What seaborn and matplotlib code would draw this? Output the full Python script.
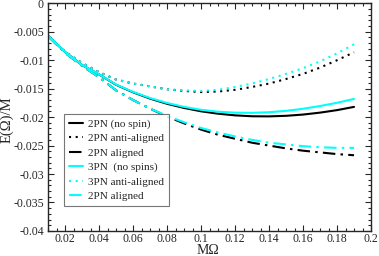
import matplotlib
matplotlib.use("Agg")
import matplotlib.pyplot as plt
import seaborn as sns
import numpy as np
import pandas as pd
from matplotlib.ticker import MultipleLocator, FuncFormatter

m_omega = [0.01, 0.02, 0.03, 0.04, 0.05, 0.06, 0.07, 0.08, 0.09, 0.10,
           0.11, 0.12, 0.13, 0.14, 0.15, 0.16, 0.17, 0.18, 0.19]

pn2_nospin = [-0.0057, -0.00855, -0.01086, -0.0125, -0.01432, -0.01564, -0.01675, -0.01766,
              -0.01839, -0.01898, -0.0194, -0.01969, -0.01985, -0.01987, -0.01977, -0.01955,
              -0.01921, -0.01877, -0.0182]
pn2_anti = [-0.0057, -0.0085, -0.0105, -0.0121, -0.0134, -0.0141, -0.0146, -0.0151, -0.0154,
            -0.0156, -0.0155, -0.0152, -0.0147, -0.0141, -0.0133, -0.0124, -0.0113, -0.0100,
            -0.0086]
pn2_aligned = [-0.0058, -0.0087, -0.0110, -0.0130, -0.0153, -0.0170, -0.0185, -0.0199, -0.0211,
               -0.0222, -0.0231, -0.0238, -0.0245, -0.0250, -0.0255, -0.0259, -0.0262, -0.0265,
               -0.0267]
pn3_nospin = [-0.0057, -0.00855, -0.01085, -0.01248, -0.01428, -0.01558, -0.01665, -0.01752,
              -0.0182, -0.01872, -0.01905, -0.01922, -0.01925, -0.01914, -0.0189, -0.01853,
              -0.01805, -0.01748, -0.0168]
pn3_anti = [-0.0057, -0.0085, -0.0105, -0.0121, -0.0134, -0.0141, -0.0146, -0.0151, -0.0153,
            -0.0154, -0.0152, -0.0147, -0.0141, -0.0133, -0.0124, -0.0114, -0.0102, -0.0088,
            -0.0072]
pn3_aligned = [-0.0058, -0.0087, -0.0110, -0.0130, -0.0153, -0.0170, -0.0185, -0.0198, -0.0209,
               -0.0219, -0.0227, -0.0234, -0.0240, -0.0245, -0.0248, -0.0251, -0.0253, -0.0254,
               -0.0254]

labels = ["2PN (no spin)", "2PN anti-aligned", "2PN aligned",
          "3PN  (no spins)", "3PN anti-aligned", "2PN aligned"]
series = [pn2_nospin, pn2_anti, pn2_aligned, pn3_nospin, pn3_anti, pn3_aligned]
colors = ["black", "black", "black", "#00FFFF", "#00FFFF", "#00FFFF"]
styles = ["-", (0, (1, 2.2)), (0, (6, 2.5, 1.2, 2.5)),
          "-", (0, (1, 2.2)), (0, (6, 2.5, 1.2, 2.5))]

sns.set_style("ticks")
plt.rcParams['font.family'] = ['Liberation Serif', 'DejaVu Serif']

fig = plt.figure(figsize=(3.79, 2.56), dpi=100)
ax = fig.add_axes([0.127, 0.098, 0.852, 0.889])

for lab, vals, c, ls in zip(labels, series, colors, styles):
    df = pd.DataFrame({"x": m_omega, "y": vals})
    sns.lineplot(data=df, x="x", y="y", ax=ax, color=c, linestyle=ls,
                 linewidth=1.5, label=lab)

ax.set_xlim(0.01, 0.2)
ax.set_ylim(-0.04, 0)
ax.xaxis.set_major_locator(MultipleLocator(0.02))
ax.xaxis.set_minor_locator(MultipleLocator(0.005))
ax.yaxis.set_major_locator(MultipleLocator(0.005))
ax.yaxis.set_minor_locator(MultipleLocator(0.001))
fmt = FuncFormatter(lambda v, p: "%g" % round(v, 6))
ax.xaxis.set_major_formatter(fmt)
ax.yaxis.set_major_formatter(fmt)
ax.tick_params(which="both", direction="in", top=True, right=True, labelsize=8.5,
               width=0.8)
ax.tick_params(axis="x", pad=1.5)
ax.tick_params(axis="y", pad=3)
ax.tick_params(which="major", length=4)
ax.tick_params(which="minor", length=2)
for s in ax.spines.values():
    s.set_linewidth(1.0)
    s.set_visible(True)

ax.set_xlabel("MΩ", fontsize=10)
ax.set_ylabel("E(Ω)/M", fontsize=10.5)
ax.xaxis.set_label_coords(0.495, -0.058)
ax.yaxis.set_label_coords(-0.108, 0.49)

leg = ax.legend(loc="lower left", bbox_to_anchor=(0.05, 0.108), fontsize=8,
                frameon=True, fancybox=False, edgecolor="#555555",
                handlelength=1.2, handletextpad=0.5, labelspacing=0.42,
                borderpad=0.45, borderaxespad=0)
leg.get_frame().set_linewidth(0.8)

fig.savefig("out.png", dpi=100)
